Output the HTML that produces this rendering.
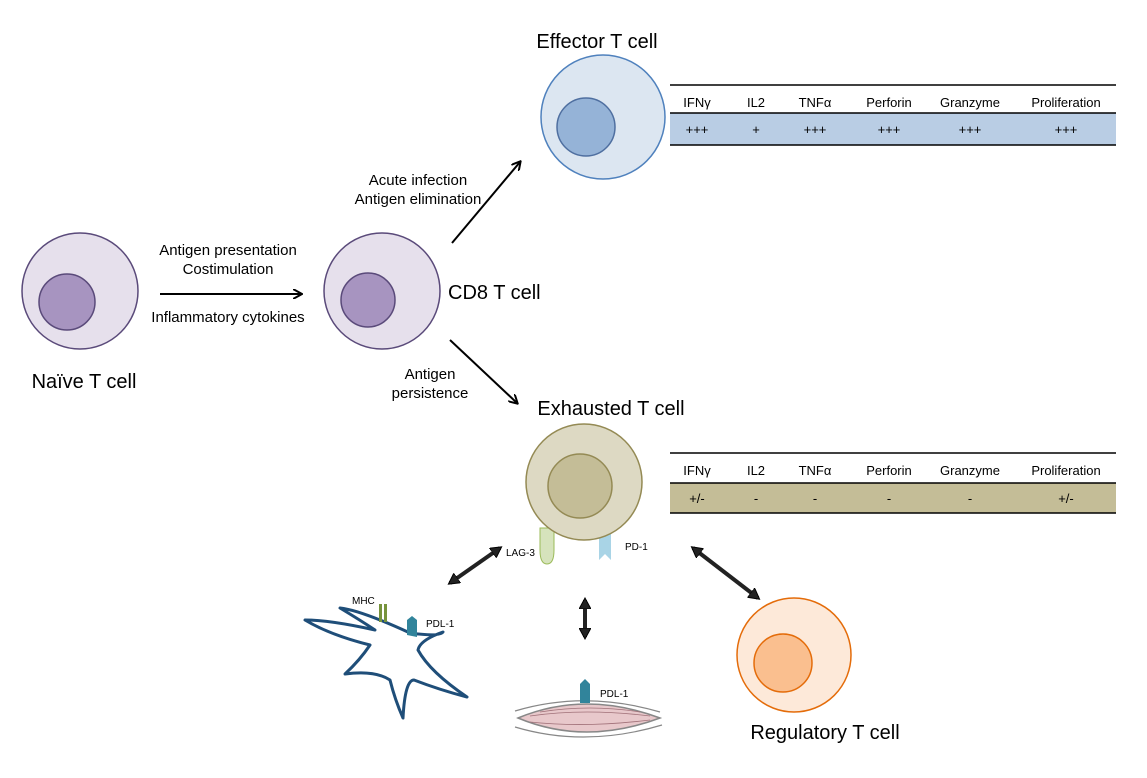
<!DOCTYPE html>
<html><head><meta charset="utf-8"><style>
body{margin:0;background:#fff;}
svg text{font-family:"Liberation Sans",Arial,sans-serif;fill:#000;}
</style></head><body>
<svg width="1147" height="773" viewBox="0 0 1147 773" xmlns="http://www.w3.org/2000/svg">
<defs>
<marker id="ah" markerWidth="10" markerHeight="10" refX="8" refY="5" orient="auto" markerUnits="userSpaceOnUse"><path d="M0,0 L9,5 L0,10" fill="none" stroke="#000" stroke-width="2"/></marker>
<marker id="ah2" markerWidth="12" markerHeight="12" refX="9" refY="6" orient="auto-start-reverse" markerUnits="userSpaceOnUse"><path d="M0,0 L11,6 L0,12 Z" fill="#222" stroke="#000" stroke-width="1"/></marker>
</defs>
<!-- Naive -->
<circle cx="80" cy="291" r="58" fill="#e6e0ec" stroke="#5a4a7a" stroke-width="1.5"/>
<circle cx="67" cy="302" r="28" fill="#a794c0" stroke="#5a4a7a" stroke-width="1.5"/>
<text x="84" y="388" font-size="20" text-anchor="middle">Naïve T cell</text>
<!-- CD8 -->
<circle cx="382" cy="291" r="58" fill="#e6e0ec" stroke="#5a4a7a" stroke-width="1.5"/>
<circle cx="368" cy="300" r="27" fill="#a794c0" stroke="#5a4a7a" stroke-width="1.5"/>
<text x="448" y="299" font-size="20">CD8 T cell</text>
<line x1="160" y1="294" x2="301" y2="294" stroke="#000" stroke-width="2" marker-end="url(#ah)"/>
<g font-size="15" text-anchor="middle">
<text x="228" y="255">Antigen presentation</text>
<text x="228" y="274">Costimulation</text>
<text x="228" y="322">Inflammatory cytokines</text>
<text x="418" y="185">Acute infection</text>
<text x="418" y="204">Antigen elimination</text>
<text x="430" y="379">Antigen</text>
<text x="430" y="398">persistence</text>
</g>
<line x1="452" y1="243" x2="520" y2="162" stroke="#000" stroke-width="2" marker-end="url(#ah)"/>
<line x1="450" y1="340" x2="517" y2="403" stroke="#000" stroke-width="2" marker-end="url(#ah)"/>
<!-- Effector -->
<text x="597" y="48" font-size="20" text-anchor="middle">Effector T cell</text>
<circle cx="603" cy="117" r="62" fill="#dce6f1" stroke="#4f81bd" stroke-width="1.5"/>
<circle cx="586" cy="127" r="29" fill="#95b3d7" stroke="#4f6fa0" stroke-width="1.5"/>
<rect x="670" y="113" width="446" height="32" fill="#b9cde4"/>
<line x1="670" y1="85" x2="1116" y2="85" stroke="#000" stroke-width="1.5"/>
<line x1="670" y1="113" x2="1116" y2="113" stroke="#000" stroke-width="1.5"/>
<line x1="670" y1="145" x2="1116" y2="145" stroke="#000" stroke-width="1.5"/>
<g font-size="13" text-anchor="middle">
<text x="697" y="107">IFNγ</text><text x="756" y="107">IL2</text><text x="815" y="107">TNFα</text><text x="889" y="107">Perforin</text><text x="970" y="107">Granzyme</text><text x="1066" y="107">Proliferation</text>
<text x="697" y="134">+++</text><text x="756" y="134">+</text><text x="815" y="134">+++</text><text x="889" y="134">+++</text><text x="970" y="134">+++</text><text x="1066" y="134">+++</text>
</g>
<!-- Exhausted -->
<text x="611" y="415" font-size="20" text-anchor="middle">Exhausted T cell</text>
<path d="M540,528 L540,550 Q540,564 547,564 Q554,564 554,550 L554,528 Z" fill="#d6e3bc" stroke="#9bbb59"/>
<path d="M599,528 L611,528 L611,560 L605,554 L599,560 Z" fill="#a9d4e6"/>
<circle cx="584" cy="482" r="58" fill="#ddd9c3" stroke="#948a54" stroke-width="1.5"/>
<circle cx="580" cy="486" r="32" fill="#c4bd97" stroke="#948a54" stroke-width="1.5"/>
<text x="506" y="556" font-size="10">LAG-3</text>
<text x="625" y="550" font-size="10">PD-1</text>
<rect x="670" y="483" width="446" height="30" fill="#c4bd97"/>
<line x1="670" y1="453" x2="1116" y2="453" stroke="#000" stroke-width="1.5"/>
<line x1="670" y1="483" x2="1116" y2="483" stroke="#000" stroke-width="1.5"/>
<line x1="670" y1="513" x2="1116" y2="513" stroke="#000" stroke-width="1.5"/>
<g font-size="13" text-anchor="middle">
<text x="697" y="475">IFNγ</text><text x="756" y="475">IL2</text><text x="815" y="475">TNFα</text><text x="889" y="475">Perforin</text><text x="970" y="475">Granzyme</text><text x="1066" y="475">Proliferation</text>
<text x="697" y="503">+/-</text><text x="756" y="503">-</text><text x="815" y="503">-</text><text x="889" y="503">-</text><text x="970" y="503">-</text><text x="1066" y="503">+/-</text>
</g>
<!-- double arrows -->
<line x1="450" y1="583" x2="500" y2="548" stroke="#222" stroke-width="4" marker-start="url(#ah2)" marker-end="url(#ah2)"/>
<line x1="585" y1="600" x2="585" y2="637" stroke="#222" stroke-width="4" marker-start="url(#ah2)" marker-end="url(#ah2)"/>
<line x1="693" y1="548" x2="758" y2="598" stroke="#222" stroke-width="4" marker-start="url(#ah2)" marker-end="url(#ah2)"/>
<!-- dendritic cell -->
<path d="M340,608 Q360,610 410,633 Q440,637 443,632 Q420,640 418,650 Q430,672 467,697 Q440,690 414,680 Q405,680 403,718 Q395,700 390,680 Q375,670 345,674 Q360,660 370,645 Q330,635 305,620 Q330,620 375,630 Q360,620 340,608 Z" fill="none" stroke="#1f4e79" stroke-width="3" stroke-linejoin="round"/>
<rect x="379" y="604" width="3" height="18" fill="#77933c"/><rect x="384" y="604" width="3" height="18" fill="#77933c"/>
<path d="M407,635 L407,620 L412,616 L417,620 L417,637 Z" fill="#31849b"/>
<text x="352" y="604" font-size="10">MHC</text>
<text x="426" y="627" font-size="10">PDL-1</text>
<!-- muscle -->
<path d="M518,718 Q585,690 660,718 Q585,746 518,718 Z" fill="#e8c8cb" stroke="#888" stroke-width="1.5"/>
<path d="M530,716 Q585,708 650,716 M530,722 Q585,728 650,720 M540,712 Q590,704 640,712" fill="none" stroke="#a07078" stroke-width="0.8"/>
<path d="M515,711 Q585,690 660,712 M515,727 Q585,748 662,725" fill="none" stroke="#888" stroke-width="1.2"/>
<path d="M580,703 L580,684 L585,679 L590,684 L590,703 Z" fill="#31849b"/>
<text x="600" y="697" font-size="10">PDL-1</text>
<!-- Regulatory -->
<circle cx="794" cy="655" r="57" fill="#fde9d9" stroke="#e46c0a" stroke-width="1.5"/>
<circle cx="783" cy="663" r="29" fill="#fabf8f" stroke="#e46c0a" stroke-width="1.5"/>
<text x="825" y="739" font-size="20" text-anchor="middle">Regulatory T cell</text>
</svg>
</body></html>
